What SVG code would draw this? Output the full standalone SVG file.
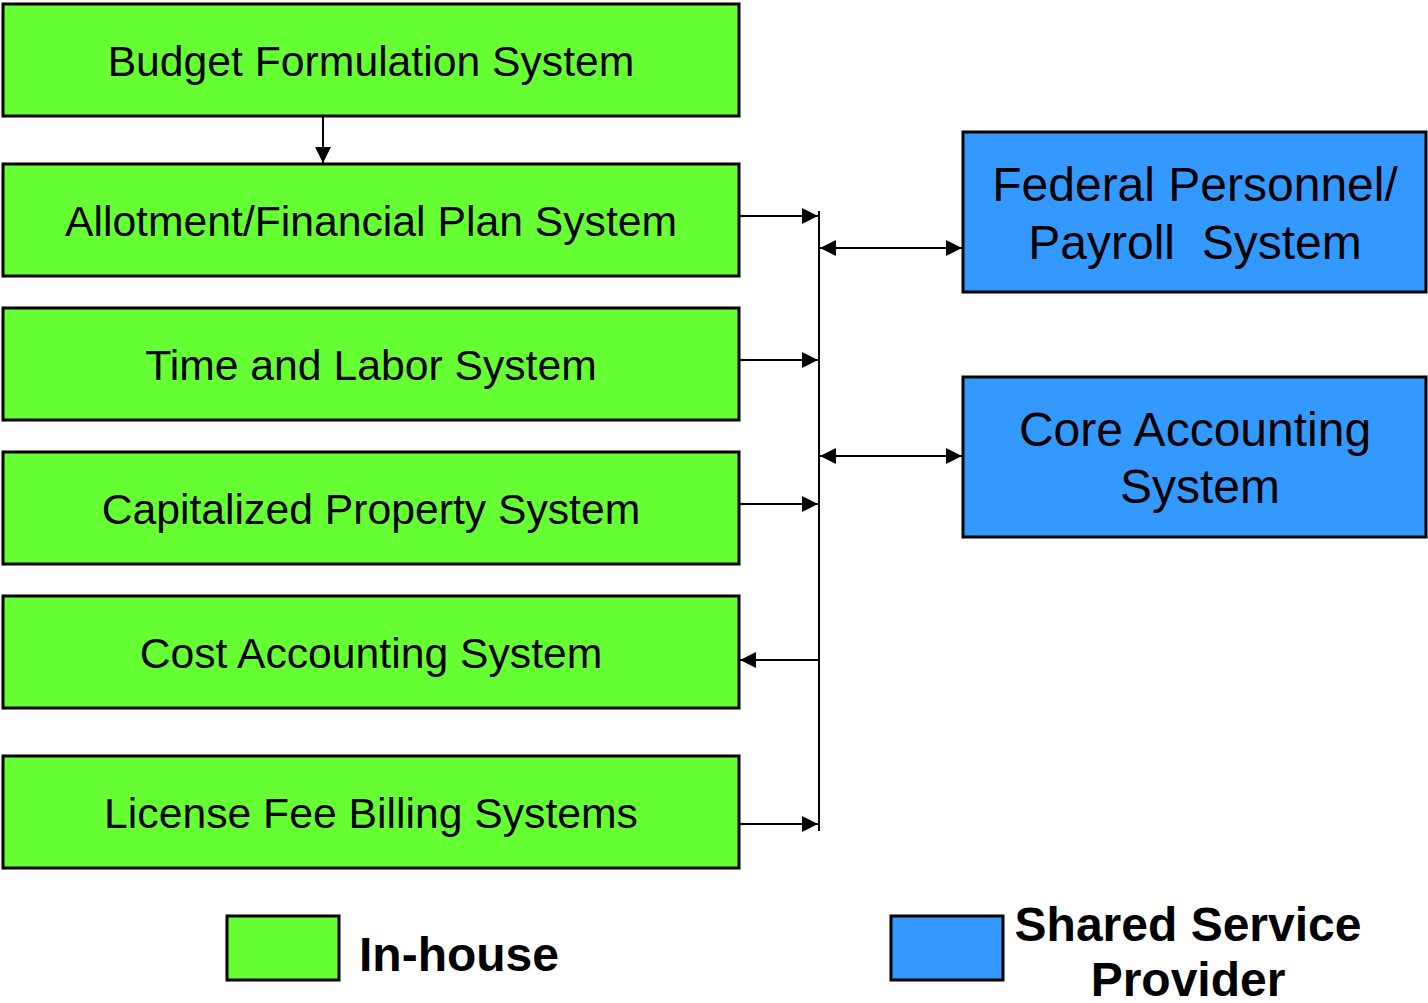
<svg xmlns="http://www.w3.org/2000/svg" width="1428" height="1003" viewBox="0 0 1428 1003">
<style>
.g{fill:#66ff33;stroke:#000;stroke-width:3}
.b{fill:#3399ff;stroke:#000;stroke-width:3}
.t{font-family:"Liberation Sans",Arial,sans-serif;font-size:42.7px;fill:#000;text-anchor:middle}
.bt{font-family:"Liberation Sans",Arial,sans-serif;font-size:48px;fill:#000;text-anchor:middle;white-space:pre}
.lt{font-family:"Liberation Sans",Arial,sans-serif;font-size:48px;font-weight:bold;fill:#000}
.c{stroke:#000;stroke-width:2;fill:none}
</style>
<defs>
<marker id="ah" viewBox="0 0 16 16" refX="16" refY="8" markerWidth="16" markerHeight="16" markerUnits="userSpaceOnUse" orient="auto-start-reverse">
<path d="M0,0 L16,8 L0,16 Z" fill="#000"/>
</marker>
</defs>
<rect width="1428" height="1003" fill="#fff"/>
<g id="budget"><rect class="g" x="3" y="4" width="736" height="112"/><text class="t" x="371" y="76">Budget Formulation System</text></g>
<g id="allotment"><rect class="g" x="3" y="164" width="736" height="112"/><text class="t" x="371" y="236">Allotment/Financial Plan System</text></g>
<g id="timelabor"><rect class="g" x="3" y="308" width="736" height="112"/><text class="t" x="371" y="380">Time and Labor System</text></g>
<g id="capprop"><rect class="g" x="3" y="452" width="736" height="112"/><text class="t" x="371" y="524">Capitalized Property System</text></g>
<g id="costacct"><rect class="g" x="3" y="596" width="736" height="112"/><text class="t" x="371" y="668">Cost Accounting System</text></g>
<g id="license"><rect class="g" x="3" y="756" width="736" height="112"/><text class="t" x="371" y="828">License Fee Billing Systems</text></g>
<g id="federal"><rect class="b" x="963" y="132" width="463" height="160"/><text class="bt" x="1195" y="201">Federal Personnel/</text><text class="bt" x="1195" y="259">Payroll&#160; System</text></g>
<g id="core"><rect class="b" x="963" y="377" width="463" height="160"/><text class="bt" x="1195" y="446">Core Accounting</text><text class="bt" x="1200" y="503">System</text></g>
<g id="connectors">
<line class="c" x1="323" y1="116" x2="323" y2="163" marker-end="url(#ah)"/>
<line class="c" x1="819" y1="211" x2="819" y2="831"/>
<line class="c" x1="739" y1="216" x2="818" y2="216" marker-end="url(#ah)"/>
<line class="c" x1="739" y1="360" x2="818" y2="360" marker-end="url(#ah)"/>
<line class="c" x1="739" y1="504" x2="818" y2="504" marker-end="url(#ah)"/>
<line class="c" x1="819" y1="660" x2="740" y2="660" marker-end="url(#ah)"/>
<line class="c" x1="739" y1="824" x2="818" y2="824" marker-end="url(#ah)"/>
<line class="c" x1="820" y1="248" x2="962" y2="248" marker-start="url(#ah)" marker-end="url(#ah)"/>
<line class="c" x1="820" y1="456" x2="962" y2="456" marker-start="url(#ah)" marker-end="url(#ah)"/>
</g>
<g id="legend">
<rect class="g" x="227" y="916" width="112" height="64" stroke-width="4"/>
<text class="lt" x="359" y="971">In-house</text>
<rect class="b" x="891" y="916" width="112" height="64" stroke-width="4"/>
<text class="lt" x="1188" y="941" text-anchor="middle">Shared Service</text>
<text class="lt" x="1188" y="996" text-anchor="middle">Provider</text>
</g>
</svg>
